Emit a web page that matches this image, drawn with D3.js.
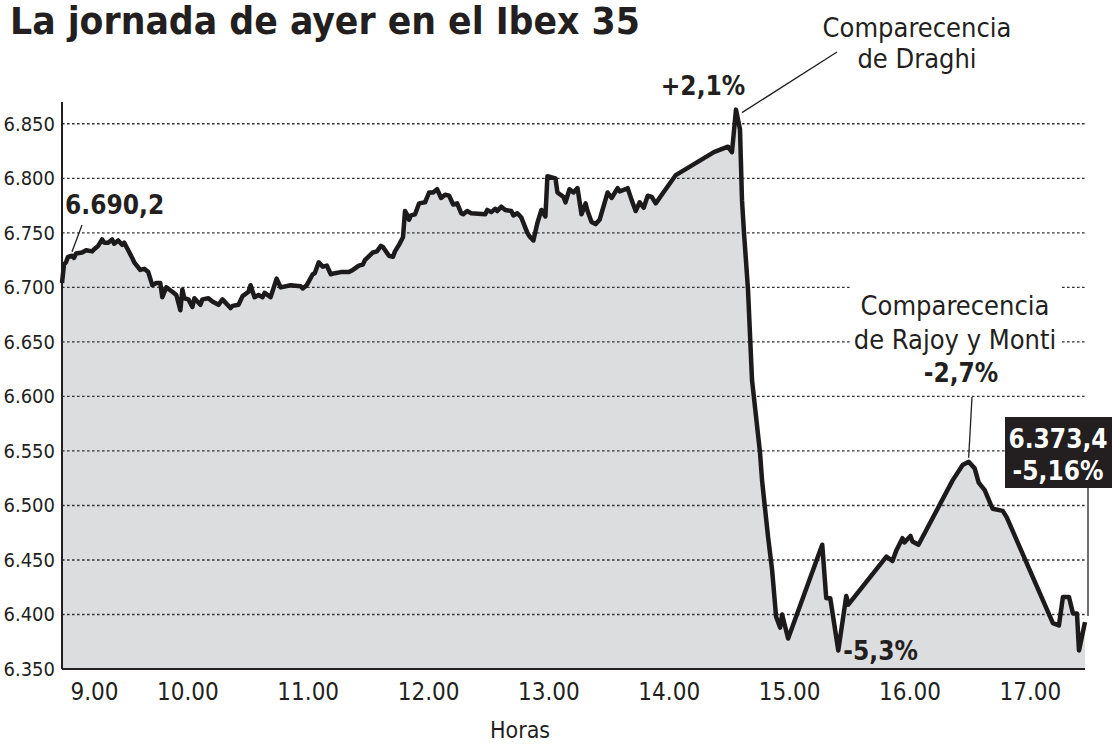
<!DOCTYPE html>
<html>
<head>
<meta charset="utf-8">
<script src="https://cdn.jsdelivr.net/npm/d3@7"></script>
<style>
  body { margin: 0; background: #fff; }
  svg { display: block; }
  text { font-family: "Liberation Sans Narrow", "DejaVu Sans Condensed", sans-serif; }
</style>
</head>
<body>
<svg width="1112" height="745"></svg>
<script>
// minutos desde las 9.00 y puntos del Ibex 35
var minutos = [0,1,2,3,5,6,7,10,12,15,16,18,20,21,23,25,26,28,30,31,33,35,36,39,41,43,45,47,49,50,
  52,55,57,59,60,61,63,65,66,69,70,73,75,78,80,84,85,88,90,93,94,96,98,100,101,104,107,109,114,119,
  120,122,125,126,128,130,132,134,136,139,143,145,148,150,151,155,157,159,160,163,165,166,168,170,171,172,173,174,176,178,
  181,183,185,187,189,191,193,195,197,199,200,202,204,211,212,214,216,217,219,221,224,225,227,229,232,233,235,237,239,241,
  242,246,247,250,251,253,255,257,259,261,262,264,266,268,272,274,277,278,281,282,284,286,288,290,292,294,296,299,306,325,
  332,334,336,338,339,340,342,344,348,349,352,354,356,358,359,362,379,381,383,387,391,392,411,414,416,419,420,421,423,424,
  427,444,449,452,455,457,460,463,464,469,471,494,497,499,502,504,506,507,510];
var puntos = [6704,6721,6723,6728,6729,6727,6731,6732,6734,6733,6735,6738,6744,6741,6741,6744,6740,6743,6739,6741,
  6734,6727,6723,6716,6717,6714,6702,6704,6704,6691,6700,6696,6693,6679,6698,6690,6689,6682,6690,6684,
  6689,6690,6687,6684,6689,6681,6683,6684,6692,6696,6702,6691,6693,6691,6695,6691,6708,6700,6702,6701,
  6699,6702,6712,6713,6723,6719,6720,6712,6713,6714,6714,6716,6720,6721,6725,6732,6733,6738,6737,6729,
  6728,6733,6739,6746,6770,6767,6762,6766,6767,6777,6778,6787,6787,6790,6782,6785,6784,6776,6777,6768,
  6767,6770,6768,6767,6771,6769,6772,6770,6774,6771,6770,6766,6768,6764,6750,6747,6743,6759,6771,6765,
  6802,6800,6787,6783,6778,6790,6787,6791,6767,6777,6770,6760,6758,6762,6787,6782,6791,6788,6790,6791,
  6780,6770,6778,6773,6784,6783,6777,6785,6803,6824,6829,6824,6863,6845,6780,6750,6698,6615,6548,6523,
  6471,6441,6398,6388,6400,6378,6464,6415,6415,6367,6417,6409,6453,6449,6459,6470,6466,6468,6472,6467,
  6464,6523,6537,6540,6534,6521,6514,6501,6497,6495,6489,6392,6390,6416,6416,6401,6401,6367,6393];
var horas = [9, 10, 11, 12, 13, 14, 15, 16, 17];
var ticksY = [6350, 6400, 6450, 6500, 6550, 6600, 6650, 6700, 6750, 6800, 6850];

var dia = function(h, m) { return new Date(2012, 7, 2, h, m); };
var datos = minutos.map(function(m, i) { return { t: dia(9, m), v: puntos[i] }; });

var svg = d3.select("svg");
var left = 62, right = 1085, bottom = 669;

var x = d3.scaleTime().domain([dia(9, 0), dia(17, 30)]).range([left, right]);
var y = d3.scaleLinear().domain([6350, 6870]).range([bottom, 102]);

var es = d3.formatLocale({ decimal: ",", thousands: ".", grouping: [3], currency: ["", " €"] });
var fmtY = es.format(",");

// titulo
svg.append("text")
  .attr("x", 10).attr("y", 34)
  .attr("font-size", "37px").attr("font-weight", "bold").attr("fill", "#231f20")
  .attr("textLength", 630).attr("lengthAdjust", "spacingAndGlyphs")
  .text("La jornada de ayer en el Ibex 35");

// area gris
svg.append("path").datum(datos)
  .attr("fill", "#dcdddf")
  .attr("d", d3.area().x(function(d) { return x(d.t); }).y0(bottom).y1(function(d) { return y(d.v); }));

// rejilla punteada
svg.append("g").selectAll("line").data(ticksY.slice(1)).enter()
  .append("line")
  .attr("x1", left).attr("x2", right)
  .attr("y1", function(d) { return y(d); }).attr("y2", function(d) { return y(d); })
  .attr("stroke", "#333").attr("stroke-width", 1.4).attr("stroke-dasharray", "2.6,2.4");

// hueco blanco tras el texto de Rajoy y Monti
svg.append("rect").attr("x", 850).attr("y", 282).attr("width", 210).attr("height", 72).attr("fill", "#fff");

// eje vertical
var axisY = d3.axisLeft(y).tickValues(ticksY).tickFormat(fmtY).tickSize(0).tickPadding(7);
var gY = svg.append("g").attr("transform", "translate(" + left + ",0)").call(axisY);
gY.select(".domain").remove();
gY.selectAll("text").attr("font-size", "20px").attr("font-family", null).attr("fill", "#231f20");
svg.append("line").attr("x1", left).attr("x2", left).attr("y1", 102).attr("y2", bottom)
  .attr("stroke", "#231f20").attr("stroke-width", 2);

// eje horizontal
var axisX = d3.axisBottom(x).tickValues(horas.map(function(h) { return dia(h, 0); }))
  .tickFormat(d3.timeFormat("%-H.%M")).tickSize(0).tickPadding(14);
var gX = svg.append("g").attr("transform", "translate(0," + bottom + ")").call(axisX);
gX.select(".domain").remove();
gX.selectAll("text").attr("font-size", "24px").attr("font-family", null).attr("fill", "#231f20")
  .attr("dx", function(d, i) { return i === 0 ? 32 : 5; });
svg.append("line").attr("x1", left).attr("x2", right).attr("y1", bottom).attr("y2", bottom)
  .attr("stroke", "#231f20").attr("stroke-width", 2);

svg.append("text").attr("x", 520).attr("y", 738).attr("text-anchor", "middle")
  .attr("font-size", "23px").attr("fill", "#231f20").text("Horas");

// linea
svg.append("path").datum(datos)
  .attr("fill", "none").attr("stroke", "#1c1a1b").attr("stroke-width", 4.5)
  .attr("stroke-linejoin", "round")
  .attr("d", d3.line().x(function(d) { return x(d.t); }).y(function(d) { return y(d.v); }));

// anotaciones
var ann = svg.append("g").attr("fill", "#231f20");
var bold = function(tx, px, py, anchor) {
  return ann.append("text").attr("x", px).attr("y", py).attr("text-anchor", anchor || "start")
    .attr("font-size", "26px").attr("font-weight", "bold").text(tx);
};
var normal = function(tx, px, py) {
  return ann.append("text").attr("x", px).attr("y", py).attr("text-anchor", "middle")
    .attr("font-size", "27px").text(tx);
};
var guia = function(x1, y1, x2, y2) {
  ann.append("line").attr("x1", x1).attr("y1", y1).attr("x2", x2).attr("y2", y2)
    .attr("stroke", "#231f20").attr("stroke-width", 1.3);
};

bold("6.690,2", 65, 214);
guia(82, 225, x(dia(9, 5)), y(6729) - 4);

bold("+2,1%", 703, 95, "middle");
normal("Comparecencia", 917, 37);
normal("de Draghi", 917, 68);
guia(837, 52, x(dia(9, 336)) + 6, y(6863) + 3);

normal("Comparecencia", 955, 315);
normal("de Rajoy y Monti", 955, 349);
bold("-2,7%", 961, 382, "middle");
guia(972, 397, x(dia(9, 452)), y(6540) - 4);

bold("-5,3%", x(dia(9, 387)) + 5, 660);

svg.append("rect").attr("x", 1005).attr("y", 417).attr("width", 107).attr("height", 71).attr("fill", "#231f20");
svg.append("text").attr("x", 1058).attr("y", 448).attr("text-anchor", "middle").attr("fill", "#fff")
  .attr("font-size", "26px").attr("font-weight", "bold").text("6.373,4");
svg.append("text").attr("x", 1058).attr("y", 480).attr("text-anchor", "middle").attr("fill", "#fff")
  .attr("font-size", "26px").attr("font-weight", "bold").text("-5,16%");
guia(1088, 488, 1088, y(6393) - 6);
</script>
</body>
</html>
